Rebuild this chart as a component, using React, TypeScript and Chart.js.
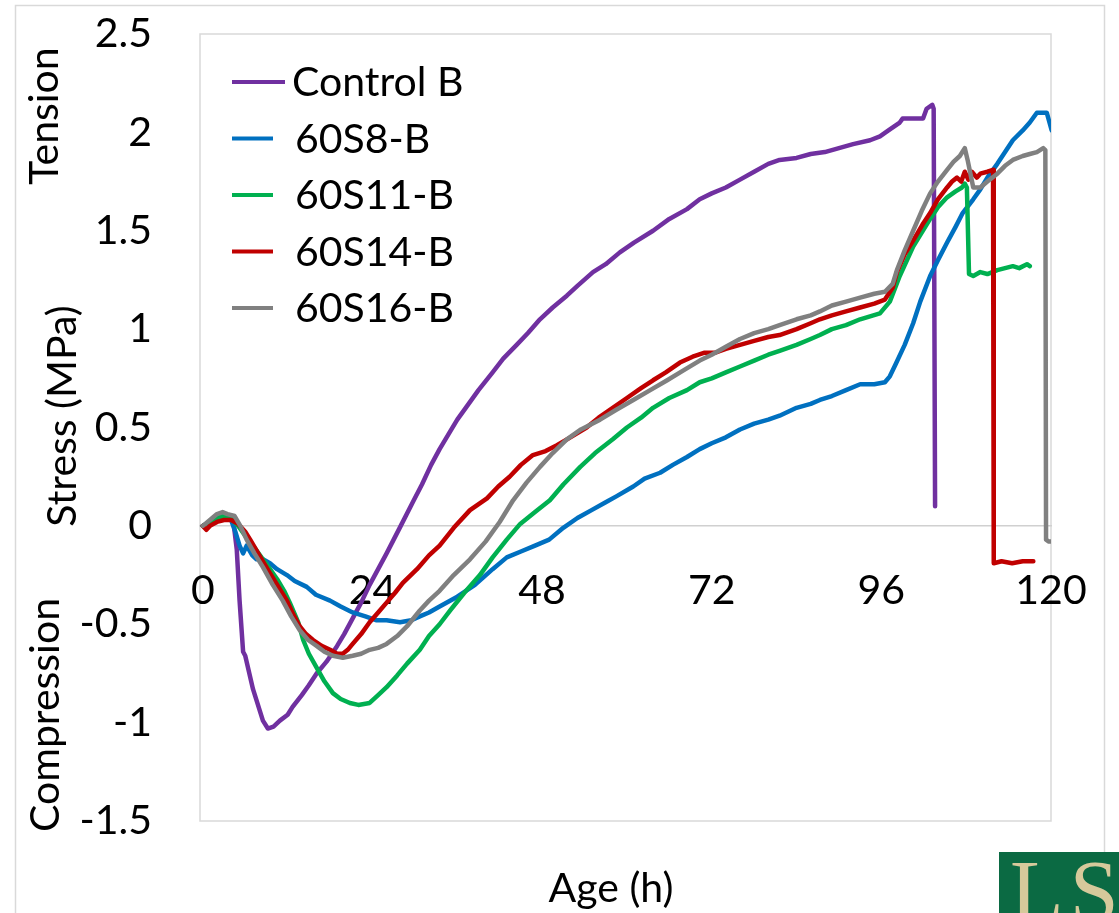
import React, { useEffect, useRef } from "react";
import { Chart, registerables } from "chart.js";

Chart.register(...registerables);

const FONT = "Lato, 'Open Sans', sans-serif";

// Axis ticks
const xTicks = [0, 24, 48, 72, 96, 120];
const yTicks = [-1.5, -1, -0.5, 0, 0.5, 1, 1.5, 2, 2.5];
const yTickLabels = ["-1.5", "-1", "-0.5", "0", "0.5", "1", "1.5", "2", "2.5"];

// Series
const seriesNames = ["Control B", "60S8-B", "60S11-B", "60S14-B", "60S16-B"];
const seriesColors = ["#7030A0", "#0070C0", "#00B050", "#C00000", "#808080"];

const controlHours = [0, 1, 2, 3, 4, 4.4, 4.8, 5.2, 5.7, 6.0, 7.1, 8.5, 9.2, 10, 10.9, 12, 12.7, 14, 15, 16.1, 17.5, 19, 20, 21.2, 22.4, 23.6, 24.8, 26, 27, 28, 29.7, 31, 32.3, 33.5, 35, 36, 37.4, 39, 41, 42.5, 44.4, 46, 47.7, 49.5, 51.5, 53, 55.2, 57, 59, 61, 63.7, 66, 68.5, 70.3, 72, 74, 76, 78, 80, 81.6, 84, 86, 88, 90, 92, 94.4, 95.8, 97, 98.6, 99, 100.5, 101.9, 102.4, 103.2, 103.4, 103.6];
const controlStress = [0, 0.02, 0.04, 0.05, 0.04, 0.0, -0.12, -0.38, -0.64, -0.66, -0.83, -0.99, -1.03, -1.02, -0.99, -0.96, -0.92, -0.86, -0.81, -0.75, -0.69, -0.61, -0.55, -0.47, -0.39, -0.30, -0.22, -0.14, -0.07, 0.0, 0.12, 0.21, 0.31, 0.39, 0.48, 0.54, 0.61, 0.69, 0.78, 0.85, 0.92, 0.98, 1.05, 1.11, 1.17, 1.22, 1.29, 1.33, 1.39, 1.44, 1.50, 1.56, 1.61, 1.66, 1.69, 1.72, 1.76, 1.80, 1.84, 1.86, 1.87, 1.89, 1.90, 1.92, 1.94, 1.96, 1.98, 2.01, 2.05, 2.07, 2.07, 2.07, 2.12, 2.14, 2.12, 0.10];

const s8Hours = [0, 1, 2, 3, 4, 4.6, 5.2, 5.7, 6.2, 7, 7.6, 8.5, 9.5, 10.5, 11.9, 13, 14.7, 16, 18, 19.5, 21.2, 23, 24.6, 26, 27.9, 29.5, 30.7, 32, 33.5, 36, 38.5, 41, 43, 45, 47, 49, 51, 53, 55, 57, 58.5, 60.9, 62.5, 64.7, 66.5, 68.5, 70.3, 72, 74, 76, 78, 80, 81.6, 84, 86, 87.3, 89, 91, 93, 95, 96.5, 97.2, 98, 99.3, 100.5, 101.5, 102.9, 104, 105.3, 106.5, 107.5, 109, 110, 111, 112.4, 113.5, 114.6, 116, 117, 118, 119.4, 120.1, 120.2];
const s8Stress = [0, 0.02, 0.04, 0.05, 0.03, -0.03, -0.10, -0.14, -0.10, -0.15, -0.17, -0.17, -0.19, -0.22, -0.25, -0.28, -0.31, -0.35, -0.38, -0.41, -0.44, -0.46, -0.48, -0.48, -0.49, -0.48, -0.46, -0.44, -0.41, -0.36, -0.30, -0.22, -0.16, -0.13, -0.10, -0.07, -0.01, 0.04, 0.08, 0.12, 0.15, 0.20, 0.24, 0.27, 0.31, 0.35, 0.39, 0.42, 0.45, 0.49, 0.52, 0.54, 0.56, 0.60, 0.62, 0.64, 0.66, 0.69, 0.72, 0.72, 0.73, 0.76, 0.82, 0.92, 1.03, 1.14, 1.27, 1.35, 1.44, 1.52, 1.59, 1.66, 1.71, 1.77, 1.84, 1.90, 1.96, 2.01, 2.05, 2.10, 2.10, 2.01, -0.08];

const s11Hours = [0, 1, 2, 3, 4, 5, 6.2, 7.3, 8.5, 9.5, 10.5, 11.5, 12.3, 13.5, 14.2, 15, 16.1, 17.2, 18.4, 19.5, 20.8, 22, 23.6, 24.8, 26, 27.5, 28.9, 30.7, 32, 33.5, 35, 37, 39.2, 41, 43, 44.9, 47, 49.1, 51, 53.4, 55.5, 58, 60, 62, 63.7, 66, 68.5, 70.3, 72, 74, 76, 78, 80, 81.6, 84, 86, 87.3, 89, 91, 93, 95.8, 97.2, 98.6, 100.5, 102.9, 104, 105.3, 106.5, 107.4, 107.8, 108.1, 108.4, 109, 110, 111, 112.4, 113.5, 114.6, 115.5, 116.6, 117];
const s11Stress = [0, 0.02, 0.04, 0.05, 0.04, 0.0, -0.06, -0.11, -0.17, -0.22, -0.27, -0.33, -0.39, -0.49, -0.58, -0.65, -0.72, -0.79, -0.85, -0.88, -0.90, -0.91, -0.90, -0.86, -0.82, -0.76, -0.70, -0.63, -0.56, -0.50, -0.43, -0.34, -0.25, -0.16, -0.07, 0.01, 0.07, 0.13, 0.21, 0.30, 0.37, 0.44, 0.50, 0.55, 0.60, 0.65, 0.69, 0.73, 0.75, 0.78, 0.81, 0.84, 0.87, 0.89, 0.92, 0.95, 0.97, 1.00, 1.02, 1.05, 1.08, 1.14, 1.27, 1.42, 1.56, 1.62, 1.67, 1.70, 1.72, 1.74, 1.72, 1.28, 1.27, 1.29, 1.28, 1.30, 1.31, 1.32, 1.31, 1.33, 1.32];

const s14Hours = [0, 0.5, 1, 2, 3, 4, 5, 6, 6.7, 8, 9.5, 10.7, 11.9, 12.8, 13.7, 14.6, 15.6, 16.8, 18, 19, 19.8, 20.5, 21.2, 22.4, 23.6, 24.8, 26, 27.2, 28.3, 30.3, 32, 33.5, 35.5, 37.8, 40.2, 41.8, 43.4, 45, 46.7, 48.5, 50.1, 52, 54.3, 56, 58, 60, 62, 63.7, 65.5, 67.5, 69.3, 71, 72.5, 74, 76, 78, 80, 81.6, 84, 86, 87.3, 89, 91, 93, 95, 96.5, 97.6, 98.2, 99.3, 100.5, 101.8, 102.9, 104, 105.3, 106, 106.7, 107.3, 107.8, 108.3, 108.8, 109.5, 110, 111, 111.8, 111.9, 113, 114.5, 116, 117.5];
const s14Stress = [0, -0.02, 0.0, 0.02, 0.03, 0.03, 0.01, -0.03, -0.07, -0.15, -0.24, -0.31, -0.38, -0.45, -0.51, -0.55, -0.58, -0.61, -0.63, -0.65, -0.65, -0.63, -0.60, -0.55, -0.49, -0.44, -0.39, -0.34, -0.29, -0.22, -0.15, -0.10, -0.01, 0.08, 0.14, 0.20, 0.25, 0.31, 0.36, 0.38, 0.41, 0.45, 0.50, 0.55, 0.60, 0.65, 0.70, 0.74, 0.78, 0.83, 0.86, 0.88, 0.88, 0.90, 0.92, 0.94, 0.96, 0.97, 1.00, 1.03, 1.05, 1.07, 1.09, 1.11, 1.13, 1.15, 1.21, 1.29, 1.38, 1.45, 1.53, 1.59, 1.66, 1.72, 1.75, 1.77, 1.75, 1.80, 1.76, 1.80, 1.77, 1.79, 1.80, 1.81, -0.19, -0.18, -0.19, -0.18, -0.18];

const s16Hours = [0, 1, 2, 2.8, 3.5, 4.5, 5.3, 6.2, 7.3, 8.5, 9.9, 11.3, 12.5, 13.7, 14.9, 16.1, 17.2, 18.4, 19.8, 21.2, 22.4, 23.6, 24.8, 26, 27.5, 28.9, 30.7, 32, 33.5, 35.5, 37.8, 40, 42, 43.9, 45.8, 47.7, 49.5, 51.5, 53.5, 56.2, 58.5, 60.9, 63.3, 65.7, 68, 70.3, 72, 74, 76, 78, 80, 81.6, 84, 86, 87.3, 89, 91, 93, 95, 96.5, 97.6, 98.2, 99.3, 100.5, 101.7, 102.9, 104, 105.3, 106.2, 107.1, 107.8, 108.2, 109, 110, 111, 112.4, 113.5, 114.6, 116, 117, 118, 118.9, 119.2, 119.3, 119.7, 120];
const s16Stress = [0, 0.03, 0.06, 0.07, 0.06, 0.05, 0.0, -0.07, -0.14, -0.21, -0.30, -0.38, -0.46, -0.53, -0.58, -0.61, -0.64, -0.66, -0.67, -0.66, -0.65, -0.63, -0.62, -0.60, -0.56, -0.51, -0.43, -0.38, -0.33, -0.25, -0.17, -0.08, 0.02, 0.13, 0.22, 0.30, 0.37, 0.44, 0.49, 0.54, 0.59, 0.64, 0.69, 0.74, 0.79, 0.84, 0.87, 0.91, 0.95, 0.98, 1.00, 1.02, 1.05, 1.07, 1.09, 1.12, 1.14, 1.16, 1.18, 1.19, 1.23, 1.30, 1.40, 1.50, 1.60, 1.69, 1.75, 1.81, 1.85, 1.88, 1.92, 1.86, 1.72, 1.72, 1.75, 1.79, 1.83, 1.86, 1.88, 1.89, 1.90, 1.92, 1.91, -0.07, -0.08, -0.08];

const seriesHours = [controlHours, s8Hours, s11Hours, s14Hours, s16Hours];
const seriesStress = [controlStress, s8Stress, s11Stress, s14Stress, s16Stress];

const toPoints = (hours: number[], stress: number[]) =>
  hours.map((h, i) => ({ x: h, y: stress[i] }));

function verticalText(ctx: CanvasRenderingContext2D, text: string, baseX: number, centerY: number) {
  ctx.save();
  ctx.translate(baseX, centerY);
  ctx.rotate(-Math.PI / 2);
  ctx.textAlign = "center";
  ctx.textBaseline = "alphabetic";
  ctx.fillText(text, 0, 0);
  ctx.restore();
}

const frameAndLabels = {
  id: "frameAndLabels",
  beforeDraw(chart: Chart) {
    const { ctx, chartArea: a } = chart;
    ctx.save();
    ctx.fillStyle = "#ffffff";
    ctx.fillRect(0, 0, chart.width, chart.height);
    ctx.strokeStyle = "#d9d9d9";
    ctx.lineWidth = 1.5;
    // outer chart frame
    ctx.beginPath();
    ctx.moveTo(15.5, chart.height + 5);
    ctx.lineTo(15.5, 5.5);
    ctx.lineTo(1104.5, 5.5);
    ctx.lineTo(1104.5, chart.height + 5);
    ctx.stroke();
    // plot area border
    ctx.strokeRect(a.left, a.top, a.right - a.left, a.bottom - a.top);
    ctx.restore();
  },
  afterDraw(chart: Chart) {
    const { ctx } = chart;
    ctx.save();
    ctx.fillStyle = "#000000";
    ctx.font = `41px ${FONT}`;
    verticalText(ctx, "Tension", 58, 116);
    verticalText(ctx, "Stress (MPa)", 76, 416);
    verticalText(ctx, "Compression", 59, 715);
    ctx.textAlign = "center";
    ctx.textBaseline = "alphabetic";
    ctx.fillText("Age (h)", 611, 902);

    // legend
    ctx.font = `41px ${FONT}`;
    ctx.textAlign = "left";
    ctx.textBaseline = "middle";
    ctx.lineWidth = 4;
    ctx.lineCap = "butt";
    seriesNames.forEach((name, i) => {
      const y = 82 + i * 56.5;
      ctx.strokeStyle = seriesColors[i];
      ctx.beginPath();
      ctx.moveTo(232, y);
      ctx.lineTo(i === 0 ? 285 : 273, y);
      ctx.stroke();
      ctx.fillStyle = "#000000";
      ctx.fillText(name, i === 0 ? 292 : 295, y + 1);
    });
    ctx.restore();
  },
};

export default function App() {
  const canvasRef = useRef<HTMLCanvasElement | null>(null);

  useEffect(() => {
    if (!canvasRef.current) return;
    const chart = new Chart(canvasRef.current, {
      type: "line",
      data: {
        datasets: seriesNames.map((name, i) => ({
          label: name,
          data: toPoints(seriesHours[i], seriesStress[i]),
          borderColor: seriesColors[i],
          backgroundColor: seriesColors[i],
          borderWidth: 4.5,
          pointRadius: 0,
          tension: 0,
          fill: false,
          borderJoinStyle: "round" as const,
          borderCapStyle: "round" as const,
          order: seriesNames.length - i,
        })),
      },
      options: {
        responsive: false,
        animation: false,
        devicePixelRatio: 1,
        layout: { padding: { top: 34, right: 68, bottom: 92, left: 0 } },
        plugins: {
          legend: { display: false },
          tooltip: { enabled: false },
        },
        scales: {
          x: {
            type: "linear",
            position: { y: 0 },
            min: -0.4,
            max: 120,
            afterBuildTicks: (scale: any) => {
              scale.ticks = xTicks.map((v) => ({ value: v }));
            },
            afterFit: (scale: any) => {
              scale.paddingLeft = 0;
              scale.paddingRight = 0;
            },
            grid: { display: false, drawTicks: false },
            border: { display: true, color: "#d0d0d0", width: 1.5 },
            ticks: {
              color: "#000000",
              font: { family: FONT, size: 41 },
              padding: 40,
              maxRotation: 0,
              autoSkip: false,
              callback: (v: any) => String(v),
            },
          },
          y: {
            type: "linear",
            min: -1.5,
            max: 2.5,
            afterBuildTicks: (scale: any) => {
              scale.ticks = yTicks.map((v) => ({ value: v }));
            },
            afterFit: (scale: any) => {
              scale.width = 200;
              scale.paddingTop = 0;
              scale.paddingBottom = 0;
            },
            grid: { display: false, drawTicks: false },
            border: { display: false },
            ticks: {
              color: "#000000",
              font: { family: FONT, size: 41 },
              padding: 48,
              autoSkip: false,
              callback: (_v: any, i: number) => yTickLabels[i],
            },
          },
        },
      },
      plugins: [frameAndLabels],
    });
    return () => chart.destroy();
  }, []);

  return (
    <div style={{ position: "fixed", left: 0, top: 0, width: 1119, height: 913, background: "#fff" }}>
      <canvas ref={canvasRef} width={1119} height={913} style={{ display: "block" }} />
      <div
        style={{
          position: "absolute",
          left: 999,
          top: 852,
          width: 120,
          height: 61,
          background: "#0b6a43",
          overflow: "hidden",
        }}
      >
        <span
          style={{
            position: "absolute",
            left: 11,
            top: -4,
            fontFamily: "'Liberation Serif', 'DejaVu Serif', serif",
            fontSize: 88,
            lineHeight: 1,
            letterSpacing: 6,
            color: "#d6c99b",
            whiteSpace: "nowrap",
          }}
        >
          LSU
        </span>
      </div>
    </div>
  );
}
